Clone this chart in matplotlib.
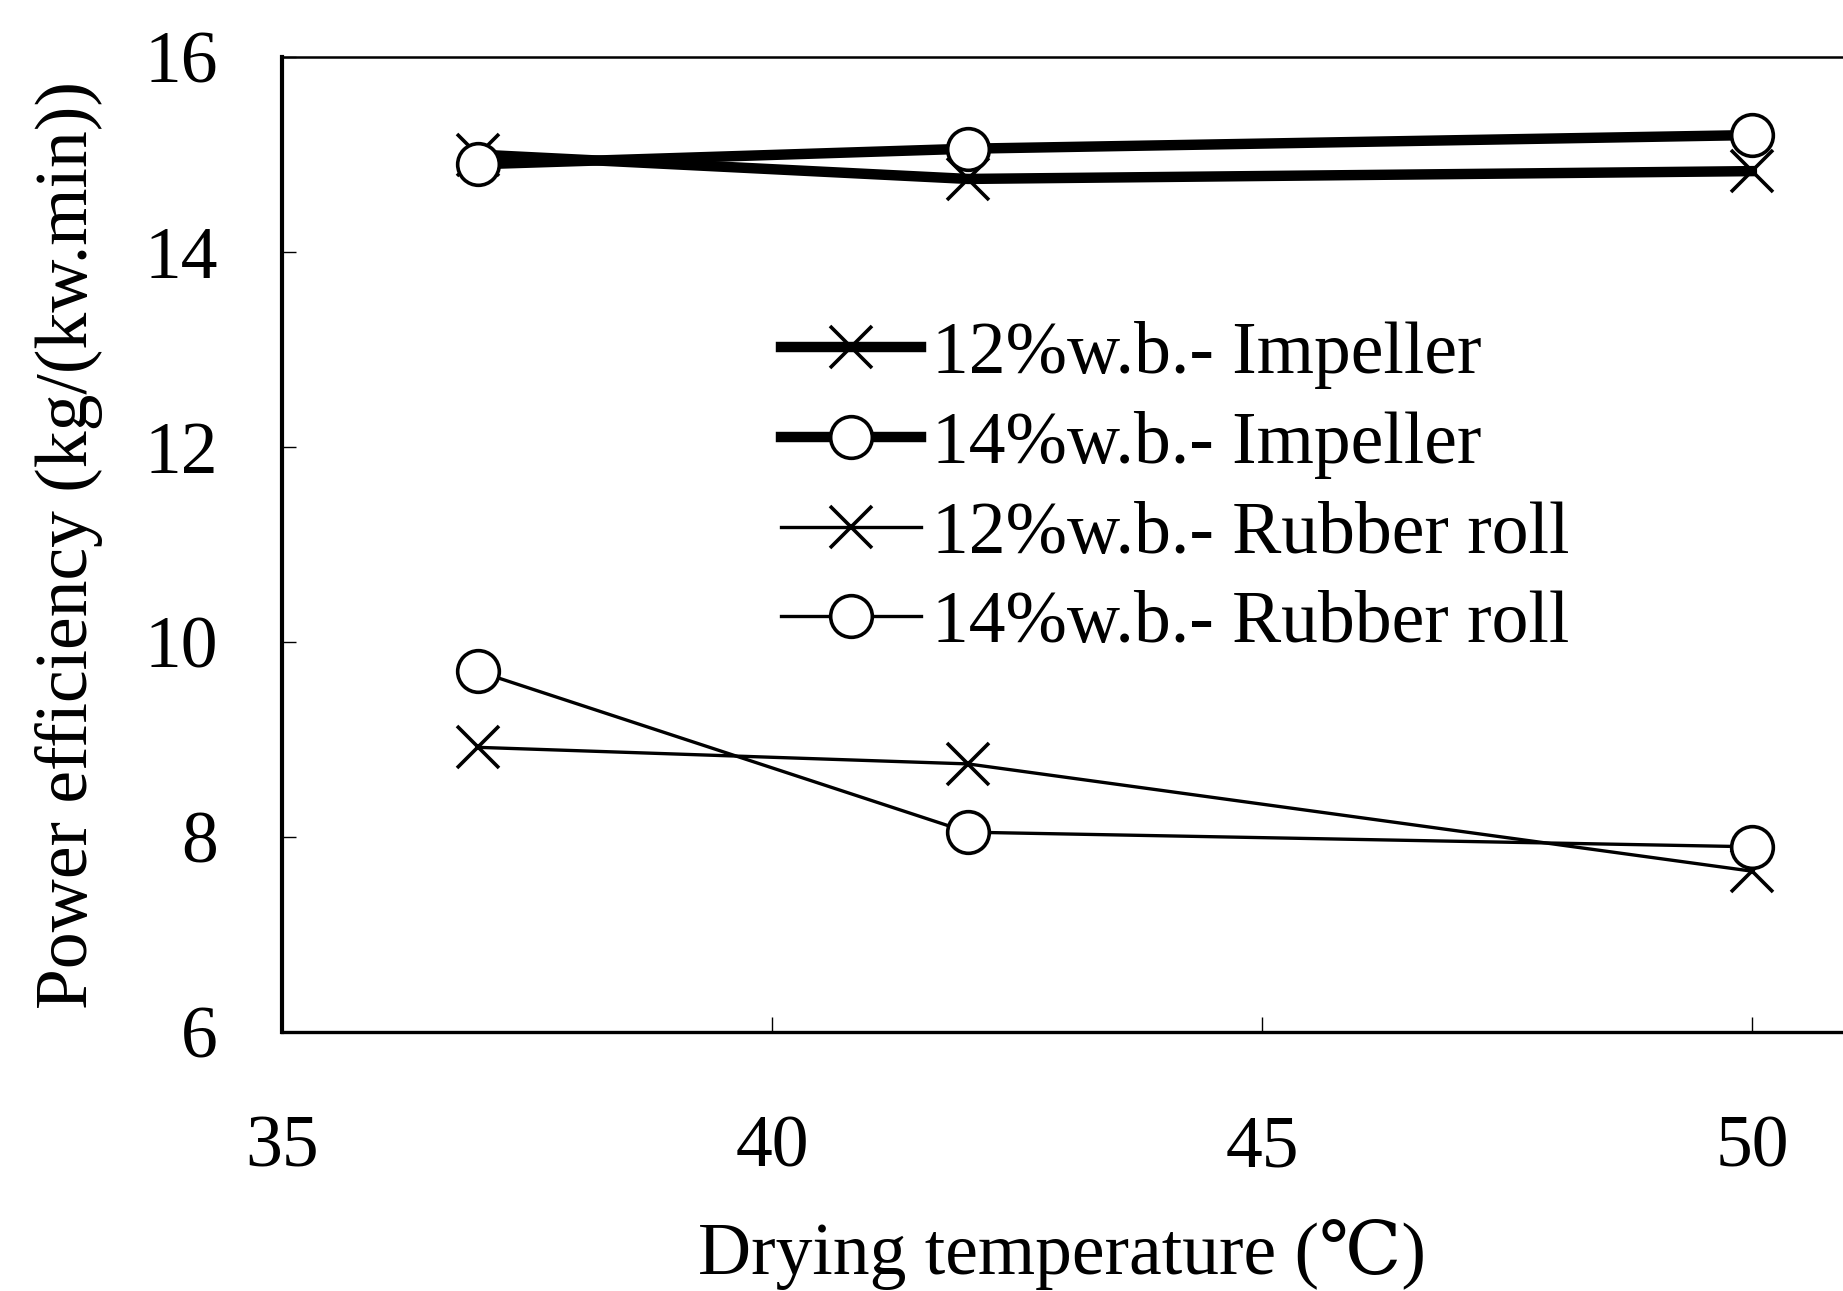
import matplotlib
matplotlib.use("Agg")
import matplotlib.pyplot as plt

# drying temperature (deg C)
temps = [37, 42, 50]

# power efficiency, kg/(kw.min)
impeller_12 = [15.0, 14.75, 14.83]
impeller_14 = [14.9, 15.06, 15.2]
rubber_12 = [8.92, 8.75, 7.65]
rubber_14 = [9.7, 8.05, 7.9]

labels = [
    "12%w.b.- Impeller",
    "14%w.b.- Impeller",
    "12%w.b.- Rubber roll",
    "14%w.b.- Rubber roll",
]

x_ticks = [35, 40, 45, 50]
y_ticks = [6, 8, 10, 12, 14, 16]

FONT = 53

plt.rcParams.update(
    {
        "font.family": ["Liberation Serif", "DejaVu Serif", "DejaVu Sans"],
        "font.size": FONT,
        "axes.unicode_minus": False,
    }
)

fig = plt.figure(figsize=(18.43, 12.91), dpi=100)
ax = fig.add_axes([0.153, 0.2006, 0.847, 0.7552])

thick = 7.5
thin = 2.4
mk = 30
mew = 2.6

series = [
    (impeller_12, "x", thick, labels[0]),
    (rubber_12, "x", thin, labels[2]),
    (impeller_14, "o", thick, labels[1]),
    (rubber_14, "o", thin, labels[3]),
]
handles = {}
for values, marker, lw, lab in series:
    (line,) = ax.plot(
        temps,
        values,
        color="black",
        linewidth=lw,
        marker=marker,
        markersize=mk,
        markeredgewidth=mew,
        markerfacecolor="white",
        markeredgecolor="black",
        label=lab,
        zorder=3,
    )
    handles[lab] = line

ax.set_xlim(35, 50.93)
ax.set_ylim(6, 16)
ax.set_xticks(x_ticks)
ax.set_yticks(y_ticks)

ax.spines["right"].set_visible(False)
ax.spines["left"].set_linewidth(3.0)
ax.spines["bottom"].set_linewidth(2.4)
ax.spines["top"].set_linewidth(1.8)

ax.tick_params(axis="x", direction="in", length=11, width=1.0, pad=60, labelsize=FONT)
ax.tick_params(axis="y", direction="in", length=10, width=1.0, pad=46, labelsize=FONT)

ax.set_xlabel("Drying temperature (\u2103)", labelpad=26)
ax.set_ylabel("Power efficiency (kg/(kw.min))", labelpad=30)

ax.legend(
    handles=[handles[l] for l in labels],
    loc="upper left",
    bbox_to_anchor=(0.404, 0.78),
    bbox_transform=fig.transFigure,
    frameon=False,
    fontsize=FONT,
    handlelength=1.9,
    handletextpad=0.15,
    labelspacing=0.3,
    borderpad=0.0,
    numpoints=1,
)

fig.savefig("out.png", dpi=100)
